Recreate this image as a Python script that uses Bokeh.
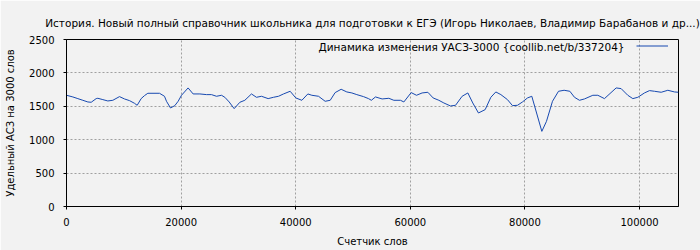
from bokeh.plotting import figure
from bokeh.models import Range1d, Legend, LegendItem, Label, FixedTicker
from bokeh.embed import file_html
from bokeh.resources import INLINE

title_text = "История. Новый полный справочник школьника для подготовки к ЕГЭ (Игорь Николаев, Владимир Барабанов и др...)"
series_name = "Динамика изменения УАСЗ-3000 {coollib.net/b/337204}"
x_label = "Счетчик слов"
y_label = "Удельный АСЗ на 3000 слов"

words = [0, 1105, 1978, 2850, 3722, 4305, 5177, 5468, 6340, 7213, 8085, 9249, 10121, 10994,
         11866, 12332, 13030, 13611, 14192, 16229, 17101, 17450, 18150, 18900, 19480, 20070,
         21220, 22100, 23270, 24430, 25300, 26180, 27050, 27630, 28390, 29260, 30250, 31120,
         32280, 33150, 34030, 35190, 36120, 37000, 37870, 39030, 40020, 41070, 42120, 42810,
         43980, 45140, 46020, 46880, 47930, 48920, 49800, 50660, 51830, 52700, 53200, 53920,
         55080, 56250, 57120, 58280, 58870, 60150, 61080, 62060, 63060, 63980, 64980, 65850,
         67010, 67890, 69040, 70040, 70900, 71890, 73060, 74050, 74920, 75800, 76950, 77830,
         78700, 79570, 80450, 81200, 82950, 83760, 84810, 85860, 86840, 87840, 88650, 89520,
         90390, 91850, 92720, 93880, 95920, 96790, 97950, 98830, 99700, 100860, 101740, 102610,
         103780, 104940, 106100, 106800]
uasz = [1665, 1640, 1615, 1590, 1565, 1560, 1615, 1620, 1600, 1580, 1590, 1645, 1610, 1585,
        1545, 1515, 1615, 1660, 1695, 1695, 1650, 1575, 1475, 1510, 1575, 1665,
        1775, 1685, 1685, 1675, 1675, 1650, 1665, 1635, 1565, 1465, 1560, 1590,
        1685, 1635, 1650, 1615, 1635, 1650, 1685, 1725, 1625, 1590, 1685, 1665,
        1650, 1575, 1590, 1705, 1755, 1715, 1700, 1675, 1645, 1615, 1590, 1640,
        1610, 1620, 1590, 1590, 1565, 1705, 1665, 1700, 1710, 1625, 1590, 1550,
        1505, 1515, 1650, 1700, 1550, 1400, 1450, 1635, 1715, 1675, 1600, 1510,
        1515, 1565, 1625, 1650, 1125, 1275, 1575, 1725, 1740, 1725, 1635, 1590,
        1610, 1665, 1665, 1615, 1775, 1765, 1665, 1615, 1635, 1700, 1735, 1725,
        1710, 1740, 1715, 1710]

x_ticks = [0, 20000, 40000, 60000, 80000, 100000]
y_ticks = [0, 500, 1000, 1500, 2000, 2500]

BG = "#f2f2f2"
FONT = "DejaVu Sans"
FS = "10px"
FS_BIG = "10.5px"

p = figure(width=700, height=250, output_backend="svg", toolbar_location=None,
           x_range=Range1d(0, words[-1]), y_range=Range1d(0, 2500),
           min_border_left=66, min_border_right=22, min_border_top=39, min_border_bottom=44)
p.background_fill_color = BG
p.border_fill_color = BG
p.outline_line_color = "black"
p.outline_line_width = 1

p.title.text = title_text
p.title.align = "center"
p.title.text_font = FONT
p.title.text_font_size = FS_BIG
p.title.text_font_style = "normal"
p.title.text_color = "black"
p.title.standoff = 22

for ax, ticks in ((p.xaxis[0], x_ticks), (p.yaxis[0], y_ticks)):
    ax.ticker = FixedTicker(ticks=ticks)
    ax.major_tick_in = 0
    ax.major_tick_out = 3
    ax.minor_tick_line_color = None
    ax.axis_line_color = "black"
    ax.major_tick_line_color = "black"
    ax.major_label_text_font = FONT
    ax.major_label_text_font_size = FS
    ax.major_label_text_color = "black"
    ax.axis_label_text_font = FONT
    ax.axis_label_text_font_size = FS
    ax.axis_label_text_font_style = "normal"
    ax.axis_label_text_color = "black"
p.xaxis[0].axis_label = x_label
p.yaxis[0].axis_label = y_label
p.xaxis[0].formatter.use_scientific = False
p.yaxis[0].formatter.use_scientific = False
p.xaxis[0].major_label_standoff = 8
p.xaxis[0].axis_label_standoff = 7
p.yaxis[0].major_label_standoff = 9
p.yaxis[0].axis_label_standoff = 10

p.grid.grid_line_color = "#a0a0a0"
p.grid.grid_line_dash = "2 2"
p.grid.grid_line_width = 1
p.xgrid.ticker = FixedTicker(ticks=x_ticks)
p.ygrid.ticker = FixedTicker(ticks=y_ticks)

r = p.line(words, uasz, line_color="#1749b0", line_width=1)

legend = Legend(items=[LegendItem(label=" ", renderers=[r])], location="top_right",
                margin=0, padding=0, spacing=0, label_standoff=10, glyph_width=32,
                glyph_height=13, label_height=13, label_width=0, label_text_font_size=FS,
                background_fill_alpha=0, border_line_color=None)
p.add_layout(legend)

p.add_layout(Label(x=558, x_units="screen", y=2395, text=series_name, text_align="right",
                   text_baseline="middle", text_font=FONT, text_font_size=FS_BIG,
                   text_color="black"))

open("out.html", "w").write(file_html(p, INLINE))
